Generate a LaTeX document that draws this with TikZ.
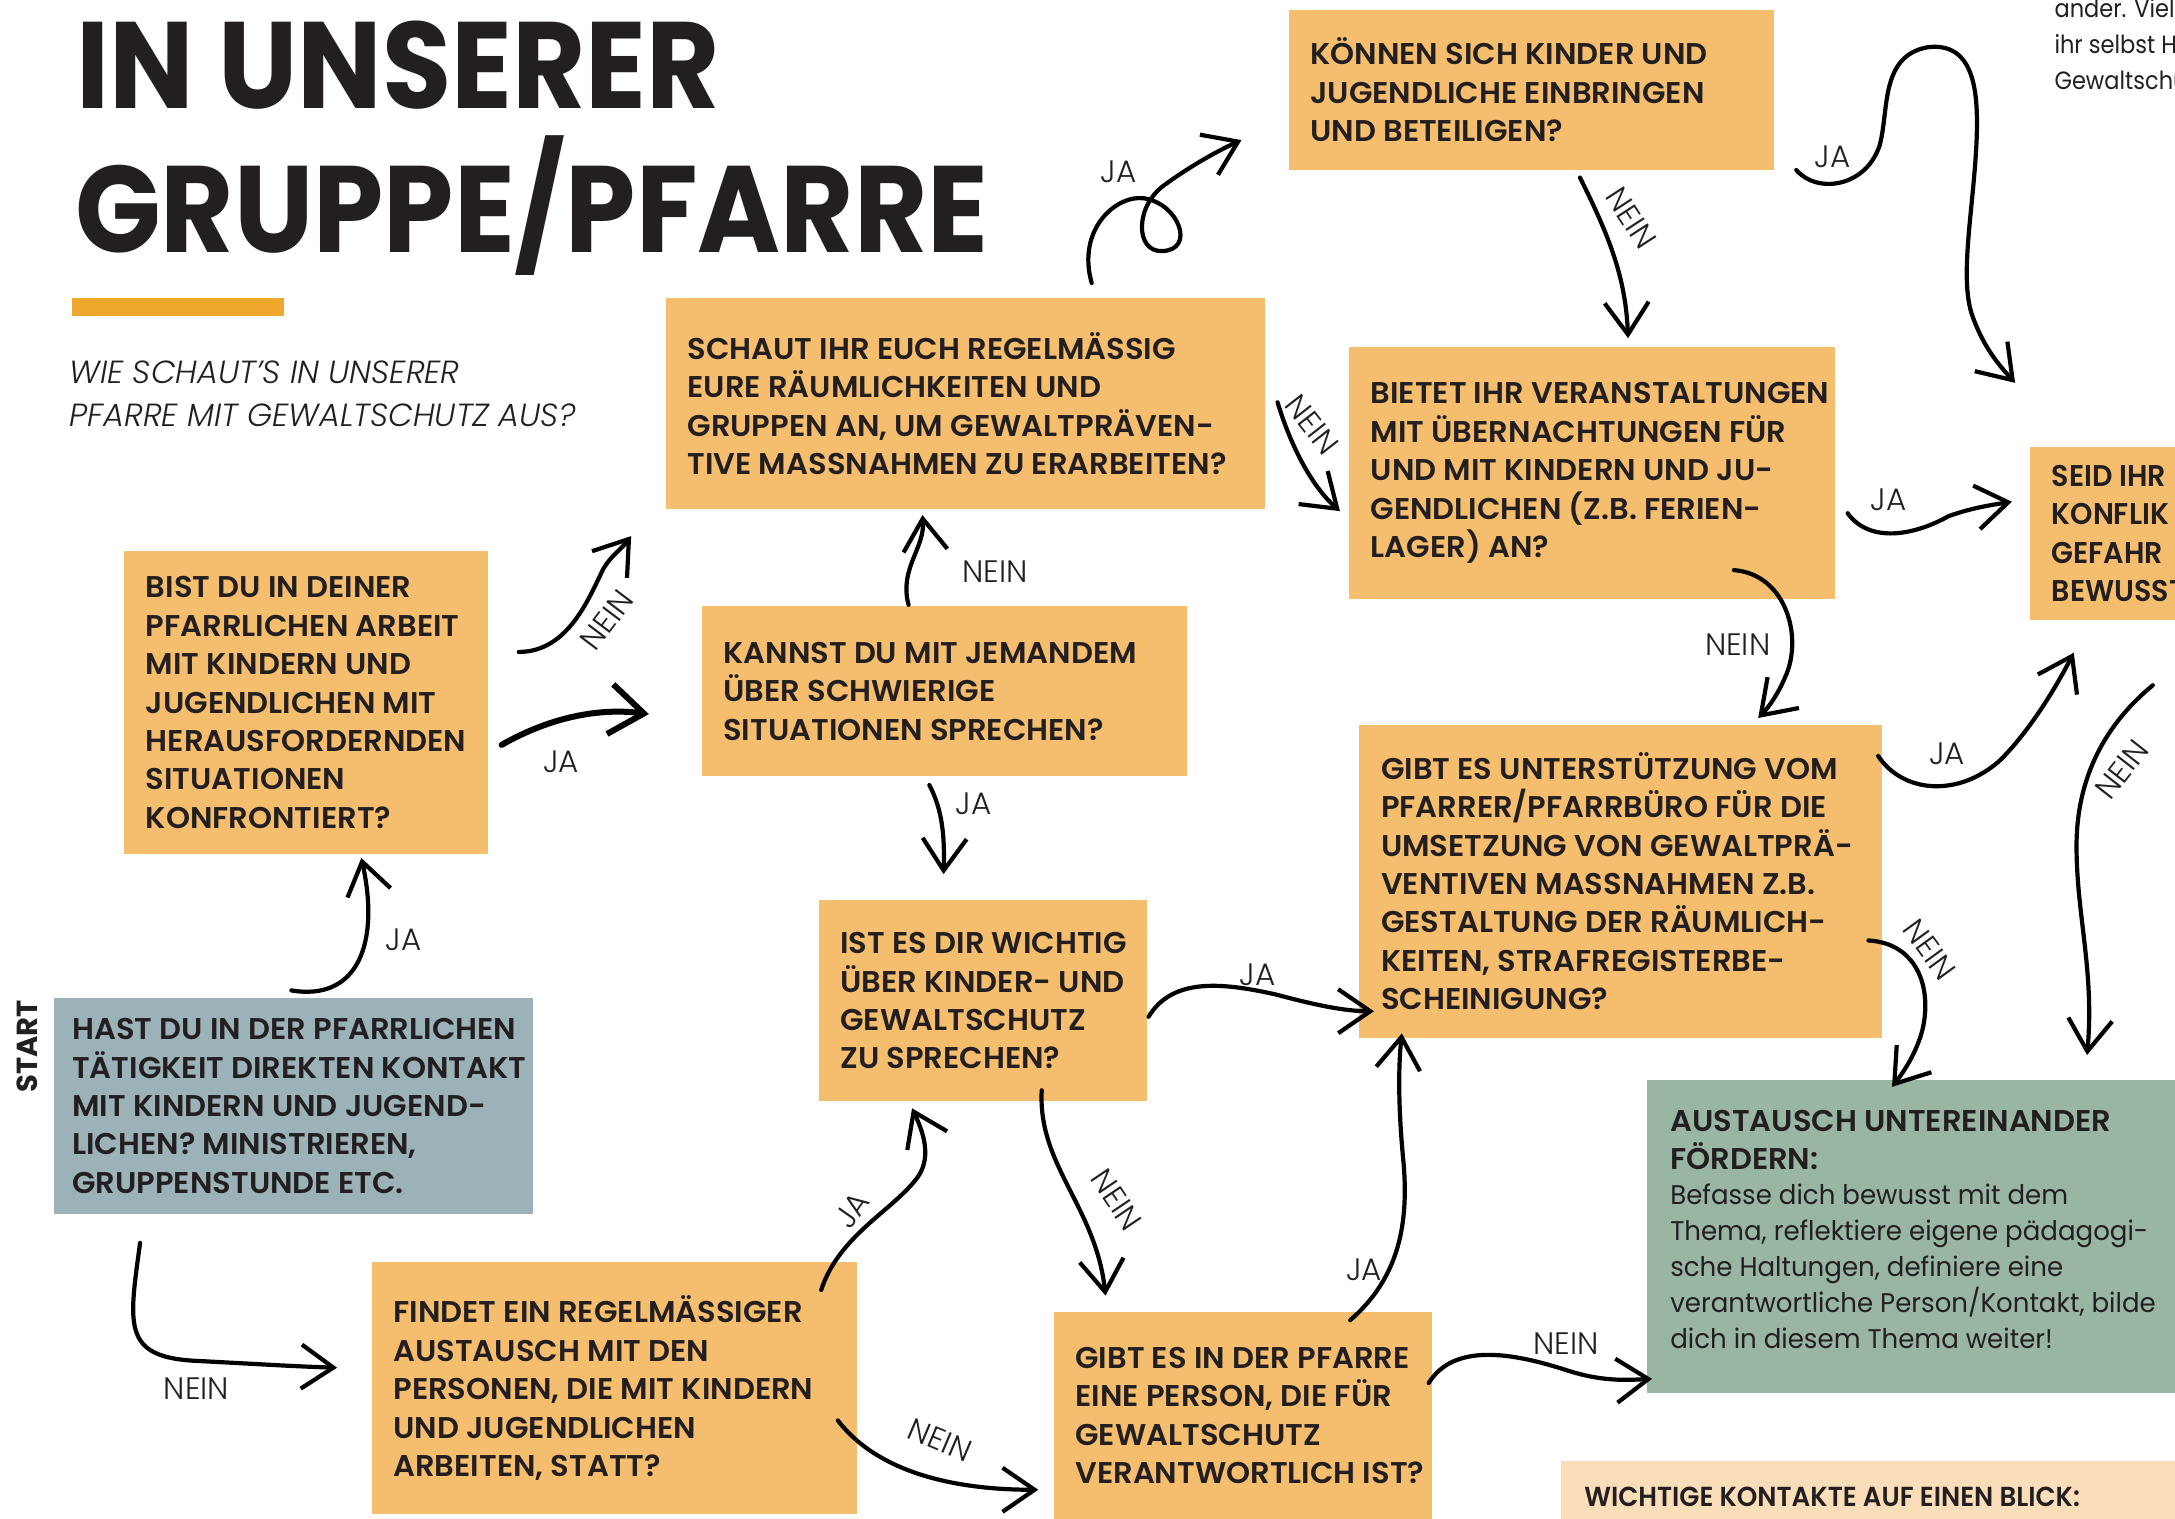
\documentclass[tikz,border=0pt]{standalone}
\usepackage{fontspec}
\usetikzlibrary{arrows.meta}
\setmainfont{Poppins}
\IfFontExistsTF{Poppins SemiBold}{\newfontfamily\bxfam{Poppins SemiBold}[FakeStretch=1.02]\newfontfamily\bxnfam{Poppins SemiBold}[FakeStretch=0.95]\newcommand\bxfont{\bxfam}\newcommand\bxnfont{\bxnfam}}{\newfontfamily\bxfam{Poppins}[FakeStretch=1.02]\newfontfamily\bxnfam{Poppins}[FakeStretch=0.95]\newcommand\bxfont{\bxfam\bfseries}\newcommand\bxnfont{\bxnfam\bfseries}}
\IfFontExistsTF{Poppins Light}{\newfontfamily\ltfam{Poppins Light}}{\newfontfamily\ltfam{Poppins}}
\newfontfamily\ttlfam{Poppins}[FakeStretch=0.915]
\newfontfamily\stfam{Poppins}
\newfontfamily\rgfam{Poppins}[FakeStretch=0.965]
\newfontfamily\trfam{Poppins}[FakeStretch=0.9]
\definecolor{obox}{HTML}{F5BD6E}
\definecolor{bbox}{HTML}{9BB3B8}
\definecolor{gbox}{HTML}{99B6A3}
\definecolor{pbox}{HTML}{FADDB9}
\definecolor{barc}{HTML}{EFA72E}
\definecolor{ink}{HTML}{231F20}
\tikzset{
 qshape/.style={rectangle, inner sep=0pt, outer sep=0pt, draw=none},
 qtext/.style={inner sep=0pt, align=left, text=ink, font=\bxfont\fontsize{30}{38.4}\selectfont},
 lbl/.style={inner sep=0pt, text=ink, font=\ltfam\fontsize{31}{34}\selectfont},
 ttl/.style={inner sep=0pt, text=ink, font=\ttlfam\bfseries\fontsize{123}{130}\selectfont},
 subt/.style={inner sep=0pt, text=ink, font=\ltfam\itshape\fontsize{32}{40}\selectfont},
 body/.style={inner sep=0pt, align=left, text=ink, font=\rgfam\fontsize{27}{36}\selectfont},
 trtext/.style={inner sep=0pt, text=ink, font=\trfam\fontsize{25}{36}\selectfont},
 arr/.style={line width=4.2pt, line cap=round, draw=black, -{Straight Barb[length=32pt,width=44pt,line width=4.2pt]}},
 arrthick/.style={line width=6pt, line cap=round, draw=black, -{Straight Barb[length=34pt,width=50pt,line width=6pt]}}
}
\newcommand\qqbox[8]{%
 \node[qshape, fill=#6, minimum width={(#4-#2)*1.3871pt}, minimum height={(#5-#3)*1.3871pt}] (#1) at ({(#2+#4)/2},{(#3+#5)/2}) {};
 \node[qtext, anchor=west] (#1-t) at ([xshift=#7]#1.west) {#8};}
\begin{document}
\begin{tikzpicture}[x=1.3871pt,y=-1.3871pt]
\useasboundingbox (0,0) rectangle (1568,1095);
\clip (0,0) rectangle (1568,1095);
\fill[white] (0,0) rectangle (1568,1095);
% title
\node[ttl, anchor=base west] (t1) at (55,78) {IN UNSERER};
\node[ttl, anchor=base west] (t2) at (54,182) {GRUPPE/PFARRE};
\fill[barc] (52,215) rectangle (205,228);
\node[subt, anchor=base west] (s1) at (50,276.3) {WIE SCHAUT’S IN UNSERER};
\node[subt, anchor=base west] (s2) at (50,307.6) {PFARRE MIT GEWALTSCHUTZ AUS?};
% top right text
\node[trtext, anchor=base west] (tr1) at (1481,12.5) {ander. Viell};
\node[trtext, anchor=base west] (tr2) at (1481,38.4) {ihr selbst H};
\node[trtext, anchor=base west] (tr3) at (1481,64.4) {Gewaltschu};
% boxes
\qqbox{schaut}{480}{215}{912}{367}{obox}{21.5pt}{SCHAUT IHR EUCH REGELMÄSSIG\\EURE RÄUMLICHKEITEN UND\\GRUPPEN AN, UM GEWALTPRÄVEN-\\TIVE MASSNAHMEN ZU ERARBEITEN?}
\qqbox{koennen}{929}{7}{1279}{122.6}{obox}{21.5pt}{KÖNNEN SICH KINDER UND\\JUGENDLICHE EINBRINGEN\\UND BETEILIGEN?}
\qqbox{bietet}{972.5}{250}{1323}{432}{obox}{21.5pt}{BIETET IHR VERANSTALTUNGEN\\MIT ÜBERNACHTUNGEN FÜR\\UND MIT KINDERN UND JU-\\GENDLICHEN (Z.B. FERIEN-\\LAGER) AN?}
\qqbox{seid}{1463.5}{322}{1620}{447}{obox}{21.5pt}{\bxnfont SEID IHR\\\bxnfont KONFLIK\\\bxnfont GEFAHR\\\bxnfont BEWUSST}
\qqbox{kannst}{505.8}{437}{855.8}{559.5}{obox}{21.5pt}{KANNST DU MIT JEMANDEM\\ÜBER SCHWIERIGE\\SITUATIONEN SPRECHEN?}
\qqbox{bist}{89.5}{397.5}{351.5}{615.5}{obox}{21.5pt}{BIST DU IN DEINER\\PFARRLICHEN ARBEIT\\MIT KINDERN UND\\JUGENDLICHEN MIT\\HERAUSFORDERNDEN\\SITUATIONEN\\KONFRONTIERT?}
\qqbox{hast}{39}{719.5}{384.4}{875}{bbox}{18pt}{HAST DU IN DER PFARRLICHEN\\TÄTIGKEIT DIREKTEN KONTAKT\\MIT KINDERN UND JUGEND-\\LICHEN? MINISTRIEREN,\\GRUPPENSTUNDE ETC.}
\qqbox{ist}{590.2}{649}{826.6}{794}{obox}{21.5pt}{IST ES DIR WICHTIG\\ÜBER KINDER- UND\\GEWALTSCHUTZ\\ZU SPRECHEN?}
\qqbox{gibtunt}{980}{522.5}{1357}{748}{obox}{21.5pt}{GIBT ES UNTERSTÜTZUNG VOM\\PFARRER/PFARRBÜRO FÜR DIE\\UMSETZUNG VON GEWALTPRÄ-\\VENTIVEN MASSNAHMEN Z.B.\\GESTALTUNG DER RÄUMLICH-\\KEITEN, STRAFREGISTERBE-\\SCHEINIGUNG?}
\qqbox{findet}{268}{910}{618}{1091.7}{obox}{21.5pt}{FINDET EIN REGELMÄSSIGER\\AUSTAUSCH MIT DEN\\PERSONEN, DIE MIT KINDERN\\UND JUGENDLICHEN\\ARBEITEN, STATT?}
\qqbox{gibtpf}{759.6}{946}{1032.7}{1094.8}{obox}{21.5pt}{GIBT ES IN DER PFARRE\\EINE PERSON, DIE FÜR\\GEWALTSCHUTZ\\VERANTWORTLICH IST?}
% green box
\node[qshape, fill=gbox, minimum width={(1620-1187.5)*1.3871pt}, minimum height={(1004-778.7)*1.3871pt}] (aust) at ({(1187.5+1620)/2},{(778.7+1004)/2}) {};
\node[qtext, anchor=north west] (aust-t) at (1204,800.3) {AUSTAUSCH UNTEREINANDER\\FÖRDERN:};
\node[body, anchor=north west] (aust-b) at (1204,853) {Befasse dich bewusst mit dem\\Thema, reflektiere eigene pädagogi-\\sche Haltungen, definiere eine\\verantwortliche Person/Kontakt, bilde\\dich in diesem Thema weiter!};
% peach box
\node[qshape, fill=pbox, minimum width={(1620-1125)*1.3871pt}, minimum height={(1130-1053)*1.3871pt}] (wicht) at ({(1125+1620)/2},{(1053+1130)/2}) {};
\node[qtext, anchor=base west, font=\bxnfont\fontsize{27.5}{30}\selectfont] (wicht-t) at (1142,1085.7) {WICHTIGE KONTAKTE AUF EINEN BLICK:};
% START
\node[inner sep=0pt, text=ink, rotate=90, font=\stfam\bfseries\fontsize{29}{30}\selectfont] (start) at (20,754.5) {START};
% connector end points
\coordinate (a-s) at (210,714); \coordinate (a-e) at (260.5,618.5);
\coordinate (b-s) at (101,896); \coordinate (b-e) at (243,986);
\coordinate (c-s) at (374,470); \coordinate (c-e) at (455,386.5);
\coordinate (d-s) at (361.6,537); \coordinate (d-e) at (467.8,514.8);
\coordinate (e-s) at (655,436); \coordinate (e-e) at (665,371.3);
\coordinate (f-s) at (670,566); \coordinate (f-e) at (680.2,630.2);
\coordinate (g-s) at (787,204); \coordinate (g-e) at (895,101);
\coordinate (h-s) at (921,290); \coordinate (h-e) at (966,368.5);
\coordinate (i-s) at (1139,128); \coordinate (i-e) at (1173.7,243.8);
\coordinate (j-s) at (1295,122.6); \coordinate (j-e) at (1452.7,276);
\coordinate (k-s) at (1332,370); \coordinate (k-e) at (1450.4,361.7);
\coordinate (l-s) at (1250,411); \coordinate (l-e) at (1267.5,517.6);
\coordinate (m-s) at (1354,545); \coordinate (m-e) at (1495,470.6);
\coordinate (n-s) at (1552,494); \coordinate (n-e) at (1504.6,760.6);
\coordinate (o-s) at (1347,678); \coordinate (o-e) at (1364,783.5);
\coordinate (p-s) at (828,733); \coordinate (p-e) at (990.5,729);
\coordinate (q-s) at (751,786); \coordinate (q-e) at (797,934);
\coordinate (r-s) at (592,930); \coordinate (r-e) at (657.5,799);
\coordinate (s-s) at (604,1024); \coordinate (s-e) at (748.5,1074);
\coordinate (t-s) at (973.4,951.7); \coordinate (t-e) at (1010.6,745);
\coordinate (u-s) at (1030,997); \coordinate (u-e) at (1191,994);
% connectors
\draw[arr] (a-s) .. controls (258,722) and (274,680) .. (a-e);
\draw[arr] (b-s) .. controls (93,955) and (88,978) .. (140,981) .. controls (180,983) and (210,985) .. (b-e);
\draw[arr] (c-s) .. controls (410,470) and (425,430) .. (435,410) .. controls (441,400) and (447,397) .. (c-e);
\draw[arrthick] (d-s) .. controls (395,518) and (430,510) .. (d-e);
\draw[arr] (e-s) .. controls (648,410) and (667,395) .. (e-e);
\draw[arr] (f-s) .. controls (680,585) and (681,605) .. (f-e);
\draw[arr] (g-s) .. controls (776,165) and (805,140) .. (825,143) .. controls (850,147) and (862,180) .. (838,181) .. controls (818,182) and (818,148) .. (840,133) .. controls (855,122) and (875,110) .. (g-e);
\draw[arr] (h-s) .. controls (930,320) and (945,350) .. (h-e);
\draw[arr] (i-s) .. controls (1160,170) and (1172,200) .. (i-e);
\draw[arr] (j-s) .. controls (1310,140) and (1345,135) .. (1355,105) .. controls (1362,80) and (1355,40) .. (1390,34) .. controls (1425,30) and (1426,70) .. (1425,100) .. controls (1423,150) and (1412,200) .. (1422,228) .. controls (1430,250) and (1440,262) .. (j-e);
\draw[arr] (k-s) .. controls (1348,392) and (1380,386) .. (1405,372) .. controls (1422,366) and (1436,364) .. (k-e);
\draw[arr] (l-s) .. controls (1288,414) and (1300,460) .. (1287,488) .. controls (1282,500) and (1275,510) .. (l-e);
\draw[arr] (m-s) .. controls (1372,572) and (1412,575) .. (1442,548) .. controls (1465,525) and (1484,492) .. (m-e);
\draw[arr] (n-s) .. controls (1518,522) and (1497,560) .. (1497,610) .. controls (1497,660) and (1510,700) .. (n-e);
\draw[arr] (o-s) .. controls (1382,680) and (1393,712) .. (1386,742) .. controls (1382,758) and (1373,772) .. (o-e);
\draw[arr] (p-s) .. controls (845,705) and (880,708) .. (920,717) .. controls (950,725) and (970,729) .. (p-e);
\draw[arr] (q-s) .. controls (748,840) and (790,870) .. (q-e);
\draw[arr] (r-s) .. controls (605,890) and (645,872) .. (662,848) .. controls (672,833) and (665,815) .. (r-e);
\draw[arr] (s-s) .. controls (630,1058) and (680,1074) .. (s-e);
\draw[arr] (t-s) .. controls (1010,920) and (1015,880) .. (1012,840) .. controls (1008,800) and (1008,770) .. (t-e);
\draw[arr] (u-s) .. controls (1048,968) and (1090,975) .. (1130,988) .. controls (1155,996) and (1172,995) .. (u-e);
% labels
\node[lbl] (la) at (290.8,677.7) {JA};
\node[lbl] (lb) at (141.6,1000.9) {NEIN};
\node[lbl, rotate=53] (lc) at (437.5,447.2) {NEIN};
\node[lbl] (ld) at (404.6,549.3) {JA};
\node[lbl] (le) at (717.2,412.2) {NEIN};
\node[lbl] (lf) at (702,579.7) {JA};
\node[lbl] (lg) at (806.3,123.8) {JA};
\node[lbl, rotate=-52] (lh) at (946,306) {NEIN};
\node[lbl, rotate=-57] (li) at (1176,157) {NEIN};
\node[lbl] (lj) at (1321,113) {JA};
\node[lbl] (lk) at (1361.5,360) {JA};
\node[lbl] (ll) at (1252.7,465) {NEIN};
\node[lbl] (lm) at (1403.5,543.6) {JA};
\node[lbl, rotate=52] (ln) at (1529.5,554.8) {NEIN};
\node[lbl, rotate=-54] (lo) at (1391,684.5) {NEIN};
\node[lbl] (lp) at (906.7,702.4) {JA};
\node[lbl, rotate=-56] (lq) at (805,865) {NEIN};
\node[lbl, rotate=55] (lr) at (614.5,872.4) {JA};
\node[lbl, rotate=-23] (ls) at (677.7,1038.2) {NEIN};
\node[lbl] (lt) at (983.4,915.6) {JA};
\node[lbl] (lu) at (1129,968.5) {NEIN};
\end{tikzpicture}
\end{document}
